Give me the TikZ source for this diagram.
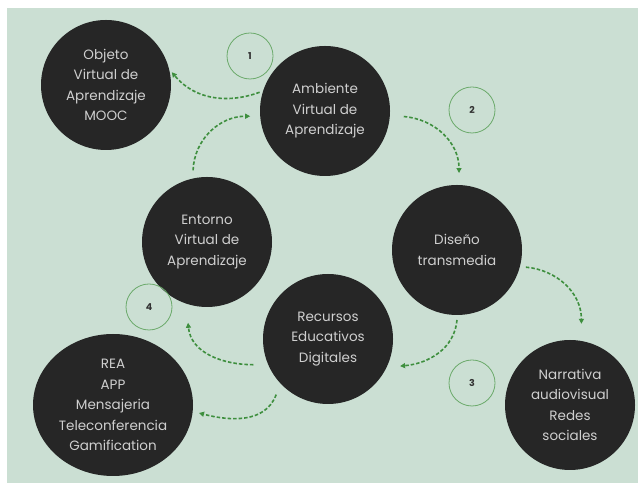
\documentclass[tikz,border=0pt]{standalone}
\usepackage{fontspec}
\setmainfont{Poppins}
\usetikzlibrary{arrows.meta,shapes.geometric,calc}
\definecolor{bgc}{HTML}{CBDFD3}
\definecolor{disc}{HTML}{262626}
\definecolor{txt}{HTML}{CFCFCF}
\definecolor{arr}{HTML}{3E8F3E}
\definecolor{ring}{HTML}{6BAA6B}
\tikzset{
  disk/.style={circle,fill=disc,minimum size=130pt,inner sep=0pt,text=txt,align=center,
    font=\fontsize{13.5}{20.5}\selectfont},
  numring/.style={circle,draw=ring,line width=0.8pt,minimum size=46pt,inner sep=0pt,
    text=black!80,font=\fontsize{9.5}{9.5}\selectfont\bfseries},
  flow/.style={draw=arr,line width=1.6pt,dash pattern=on 3.5pt off 2pt,
    -{Triangle[length=5pt,width=5pt,fill=arr]}}
}
\begin{document}
\begin{tikzpicture}[x=1pt,y=1pt]
\useasboundingbox (0,0) rectangle (639,486);
\fill[white] (0,0) rectangle (639,486);
\fill[bgc] (7,3) rectangle (638,478);
% main nodes
\node[disk] (obj) at (106,401) {Objeto\\Virtual de\\Aprendizaje\\MOOC};
\node[disk] (amb) at (325,375) {Ambiente\\Virtual de\\Aprendizaje};
\node[disk] (dis) at (457,236) {Diseño\\transmedia};
\node[disk] (ent) at (207,244) {Entorno\\Virtual de\\Aprendizaje};
\node[disk] (rec) at (328,147) {Recursos\\Educativos\\Digitales};
\node[disk,ellipse,minimum width=160pt,minimum height=142pt] (rea) at (113,81) {REA\\APP\\Mensajeria\\Teleconferencia\\Gamification};
\node[disk] (nar) at (570,81) {Narrativa\\audiovisual\\Redes\\sociales};
% number rings
\node[numring] (n1) at (250,430) {1};
\node[numring] (n2) at (472,376) {2};
\node[numring] (n3) at (472,103) {3};
\node[numring] (n4) at (149,179) {4};
% connectors
\draw[flow] ($(amb)+(164:68)$) to[out=200,in=-50] ($(obj)+(11:67)$);
\draw[flow] ($(ent)+(101:73)$) to[out=88,in=180] ($(amb)+(184:75)$);
\draw[flow] ($(amb)+(-4:79)$) to[out=-5,in=90] ($(dis)+(88.5:77)$);
\draw[flow] ($(dis)+(-14:71)$) to[out=-5,in=90] ($(nar)+(82:82)$);
\draw[flow] ($(dis)+(-90:70)$) to[out=-95,in=5] ($(rec)+(-20.6:77)$);
\draw[flow] ($(rec)+(199:79)$) to[out=180,in=-85] ($(ent)+(256.8:83)$);
\draw[flow] ($(rec)+(227:76)$) to[out=-110,in=-15] ($(rea)+(-5.3:86.4)$);
\end{tikzpicture}
\end{document}
